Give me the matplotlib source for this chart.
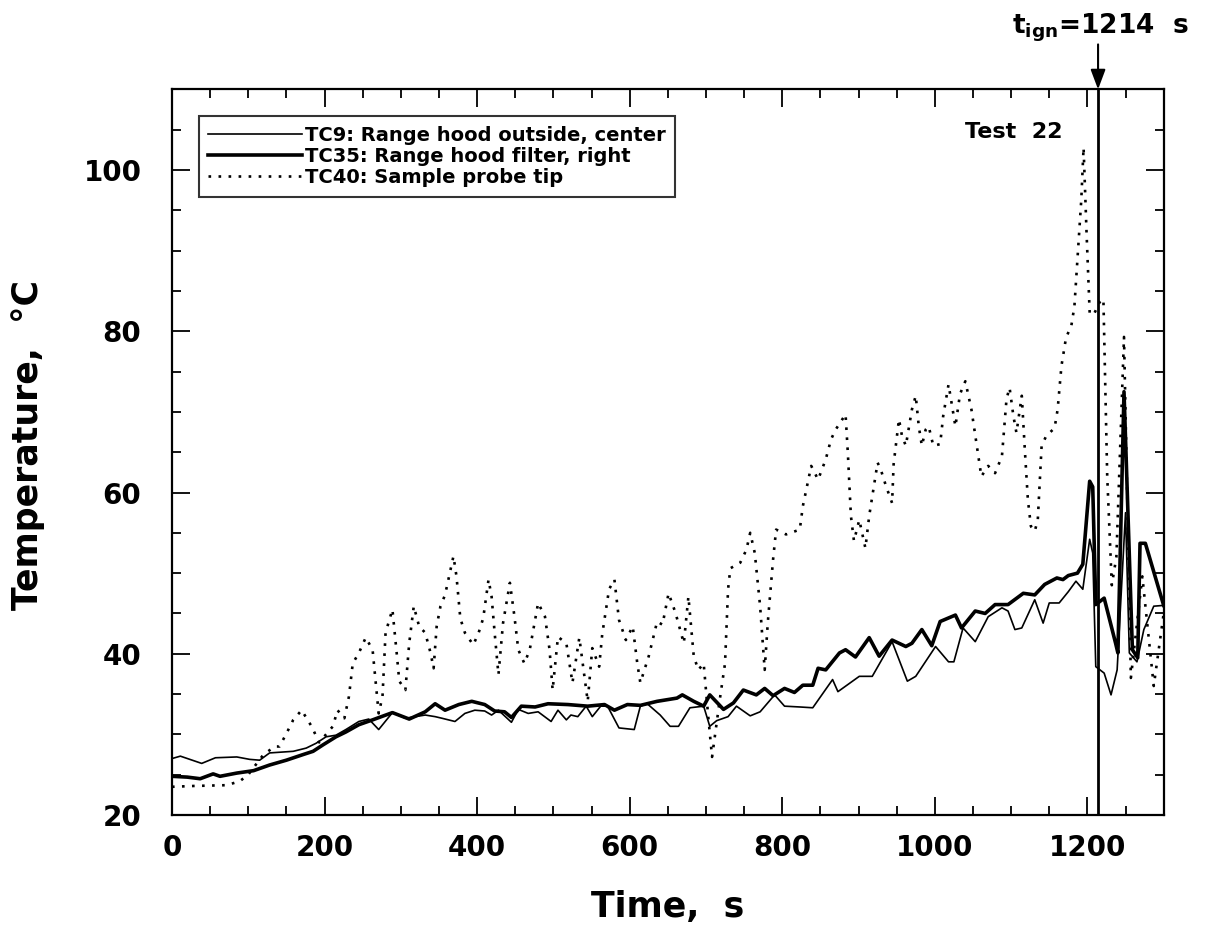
import numpy as np
import matplotlib
matplotlib.use("Agg")
import matplotlib.pyplot as plt
from matplotlib.ticker import MultipleLocator

plt.rcParams['font.family'] = ['DejaVu Sans']
plt.rcParams['font.weight'] = 'bold'
plt.rcParams['mathtext.fontset'] = 'dejavusans'

# ---------------------------------------------
# Thermocouple records, Test 22
# ---------------------------------------------
t_tc9 = [0, 11, 39, 57, 85, 102, 115, 128, 159, 176, 189, 202, 215, 228, 245, 258, 271,
         289, 306, 319, 332, 345, 354, 371, 384, 397, 410, 419, 428, 445, 454, 467, 480,
         497, 506, 517, 523, 532, 543, 551, 562, 571, 586, 606, 614, 623, 640, 653, 664,
         679, 697, 705, 714, 729, 740, 758, 771, 790, 803, 823, 840, 866, 873, 901, 918,
         944, 964, 975, 1001, 1018, 1025, 1037, 1053, 1070, 1088, 1096, 1105, 1114, 1131,
         1142, 1150, 1163, 1175, 1185, 1194, 1203, 1207, 1211, 1222, 1231, 1239, 1250,
         1255, 1265, 1274, 1287, 1300]
tc9 = [27.0, 27.3, 26.4, 27.1, 27.2, 26.9, 26.8, 27.7, 27.9, 28.3, 28.9, 29.7, 29.9, 30.6,
       31.6, 31.9, 30.6, 32.7, 32.0, 32.2, 32.4, 32.2, 32.0, 31.6, 32.6, 33.0, 32.9, 32.4,
       33.0, 31.5, 33.1, 32.6, 32.8, 31.6, 33.0, 31.8, 32.4, 32.2, 33.5, 32.2, 33.5, 33.5,
       30.8, 30.6, 33.5, 33.8, 32.4, 31.0, 31.0, 33.3, 33.5, 31.0, 31.7, 32.2, 33.5, 32.3,
       32.8, 34.9, 33.5, 33.4, 33.3, 36.8, 35.3, 37.2, 37.2, 41.5, 36.6, 37.2, 40.9, 39.0,
       39.0, 43.2, 41.5, 44.6, 45.7, 45.3, 43.0, 43.2, 46.7, 43.8, 46.3, 46.3, 47.7, 49.0,
       48.0, 54.2, 52.5, 38.4, 37.6, 34.9, 38.0, 57.5, 40.1, 39.0, 43.0, 45.9, 46.0]

t_tc35 = [0, 20, 37, 54, 63, 85, 107, 128, 150, 172, 185, 198, 215, 228, 245, 263, 289,
          311, 332, 345, 358, 376, 393, 410, 423, 436, 445, 458, 476, 493, 519, 545, 567,
          580, 597, 614, 636, 662, 669, 684, 697, 705, 723, 736, 749, 766, 777, 788, 803,
          816, 827, 840, 847, 857, 875, 883, 896, 914, 927, 944, 962, 970, 983, 996, 1007,
          1027, 1035, 1053, 1066, 1079, 1096, 1116, 1131, 1144, 1160, 1168, 1175, 1187,
          1194, 1203, 1207, 1211, 1222, 1237, 1240, 1248, 1259, 1266, 1269, 1276, 1300]
tc35 = [24.8, 24.7, 24.5, 25.1, 24.8, 25.2, 25.5, 26.2, 26.8, 27.5, 27.9, 28.7, 29.7, 30.3,
        31.2, 31.8, 32.7, 31.9, 32.8, 33.8, 33.0, 33.7, 34.1, 33.7, 32.9, 32.8, 32.1, 33.5,
        33.4, 33.8, 33.7, 33.5, 33.7, 33.0, 33.7, 33.6, 34.1, 34.5, 34.9, 34.1, 33.5, 34.9,
        33.1, 33.9, 35.5, 34.9, 35.7, 34.8, 35.7, 35.2, 36.1, 36.1, 38.2, 38.0, 40.1, 40.5,
        39.6, 42.0, 39.7, 41.7, 40.9, 41.3, 43.0, 41.0, 44.0, 44.8, 43.2, 45.3, 45.0, 46.1,
        46.1, 47.5, 47.3, 48.6, 49.4, 49.2, 49.7, 50.0, 51.1, 61.4, 60.7, 46.1, 46.9, 41.3,
        40.1, 72.5, 40.5, 39.5, 53.7, 53.7, 46.0]

t_tc40 = [0, 28, 72, 89, 100, 120, 135, 141, 150, 159, 170, 183, 193, 211, 217, 226, 232,
          237, 245, 254, 263, 271, 276, 280, 289, 295, 298, 306, 311, 317, 324, 332, 339,
          343, 347, 352, 358, 369, 373, 378, 384, 395, 402, 408, 415, 419, 423, 428, 434,
          443, 449, 454, 462, 469, 480, 489, 495, 499, 506, 517, 525, 534, 545, 551, 560,
          564, 573, 580, 586, 595, 604, 610, 614, 625, 636, 643, 651, 660, 671, 677, 684,
          690, 697, 703, 708, 714, 719, 725, 729, 732, 745, 753, 758, 764, 771, 777, 781,
          788, 792, 805, 823, 827, 838, 847, 857, 864, 870, 883, 886, 890, 894, 901, 909,
          914, 925, 929, 936, 944, 946, 953, 957, 962, 970, 975, 979, 983, 988, 992, 998,
          1007, 1011, 1018, 1027, 1033, 1040, 1048, 1055, 1061, 1070, 1079, 1088, 1094,
          1098, 1103, 1107, 1114, 1118, 1122, 1126, 1131, 1135, 1140, 1146, 1157, 1161,
          1166, 1172, 1179, 1183, 1187, 1192, 1195, 1199, 1203, 1208, 1216, 1221, 1226,
          1232, 1238, 1248, 1257, 1272, 1287, 1300]
tc40 = [23.5, 23.6, 23.7, 24.2, 25.0, 27.5, 28.5, 28.5, 30.1, 31.8, 33.0, 31.0, 29.0, 31.0,
        33.0, 32.0, 34.7, 38.8, 40.1, 42.0, 40.5, 32.6, 34.7, 42.6, 45.5, 39.7, 36.6, 35.5,
        41.3, 45.9, 43.4, 42.6, 40.1, 38.2, 43.4, 45.9, 47.3, 52.1, 49.6, 44.4, 42.6, 41.1,
        42.6, 44.4, 49.2, 47.1, 42.6, 37.4, 43.8, 48.8, 44.6, 40.5, 38.8, 40.5, 46.3, 44.6,
        40.5, 35.5, 42.1, 41.3, 36.4, 42.0, 34.1, 40.7, 38.4, 42.4, 48.0, 49.2, 44.2, 41.7,
        43.4, 38.8, 36.4, 39.7, 44.0, 43.6, 47.5, 45.1, 41.3, 47.1, 39.7, 38.0, 38.8, 32.2,
        27.2, 31.4, 34.9, 38.8, 48.0, 50.6, 51.3, 52.9, 55.0, 52.5, 45.9, 38.0, 43.8, 51.7,
        55.4, 54.8, 55.4, 58.3, 63.3, 61.6, 64.1, 66.6, 67.8, 69.7, 64.9, 57.1, 54.0, 56.6,
        53.1, 57.1, 63.7, 62.9, 60.8, 58.7, 63.5, 69.1, 67.0, 65.8, 70.3, 72.0, 68.2, 65.8,
        67.8, 68.2, 65.8, 66.0, 69.5, 73.4, 68.2, 72.2, 73.8, 70.3, 65.8, 62.0, 63.3, 62.4,
        64.5, 71.6, 73.0, 69.5, 67.4, 72.0, 65.3, 59.1, 55.8, 55.2, 56.6, 65.8, 67.0, 68.0,
        70.3, 75.7, 79.2, 80.7, 83.1, 88.9, 96.3, 102.8, 92.0, 82.3, 82.0, 83.6, 84.0, 62.0,
        48.5, 52.0, 79.3, 37.0, 49.6, 36.0, 45.0]

labels = ['TC9: Range hood outside, center',
          'TC35: Range hood filter, right',
          'TC40: Sample probe tip']
t_ign = 1214

# ---------------------------------------------
# Figure
# ---------------------------------------------
fig = plt.figure(figsize=(12.05, 9.51), dpi=100)
ax = fig.add_axes([0.1427, 0.143, 0.823, 0.763])

ax.plot(t_tc9, tc9, color='black', lw=1.2, label=labels[0])
ax.plot(t_tc35, tc35, color='black', lw=2.6, label=labels[1])
ax.plot(t_tc40, tc40, color='black', lw=1.9, linestyle=(0, (1, 2.8)),
        label=labels[2])

ax.axvline(t_ign, color='black', lw=2.0)

ax.set_xlim(0, 1300)
ax.set_ylim(20, 110)
ax.xaxis.set_major_locator(MultipleLocator(200))
ax.xaxis.set_minor_locator(MultipleLocator(50))
ax.yaxis.set_major_locator(MultipleLocator(20))
ax.yaxis.set_minor_locator(MultipleLocator(5))
ax.set_xticks([0, 200, 400, 600, 800, 1000, 1200])

ax.tick_params(which='both', direction='in', top=True, right=True, width=1.3)
ax.tick_params(which='major', length=13)
ax.tick_params(which='minor', length=6.5)
ax.tick_params(axis='x', which='major', pad=14, labelsize=20)
ax.tick_params(axis='y', which='major', pad=22, labelsize=20)
for lab in ax.get_xticklabels() + ax.get_yticklabels():
    lab.set_fontweight('bold')
for sp in ax.spines.values():
    sp.set_linewidth(1.6)

ax.set_xlabel('Time,  s', fontsize=25, fontweight='bold')
ax.set_ylabel('Temperature,  °C', fontsize=25, fontweight='bold')
ax.xaxis.set_label_coords(0.5, -0.104)
ax.yaxis.set_label_coords(-0.128, 0.51)

leg = ax.legend(loc='upper left', bbox_to_anchor=(0.027, 0.963), fontsize=14,
                handlelength=4.8, handletextpad=0.15, labelspacing=0.1,
                borderpad=0.5, fancybox=False, frameon=True, borderaxespad=0)
leg.get_frame().set_edgecolor('black')
leg.get_frame().set_linewidth(1.5)
for txt in leg.get_texts():
    txt.set_fontweight('bold')

ax.text(1167, 104, 'Test  22', fontsize=16, fontweight='bold', ha='right', va='baseline')

# ignition marker above the frame
ax.annotate('', xy=(t_ign, 1.0), xycoords=('data', 'axes fraction'),
            xytext=(t_ign, 1.062), textcoords=('data', 'axes fraction'),
            arrowprops=dict(arrowstyle='-|>,head_length=1.2,head_width=0.45',
                            color='black', lw=1.5, shrinkA=0, shrinkB=0),
            annotation_clip=False)
ax.annotate(r'$\mathbf{t}_{\mathbf{ign}}$=1214  s',
            xy=(1217, 1.077), xycoords=('data', 'axes fraction'),
            ha='center', va='baseline', fontsize=19, fontweight='bold',
            annotation_clip=False)

fig.savefig('out.png', dpi=100)
